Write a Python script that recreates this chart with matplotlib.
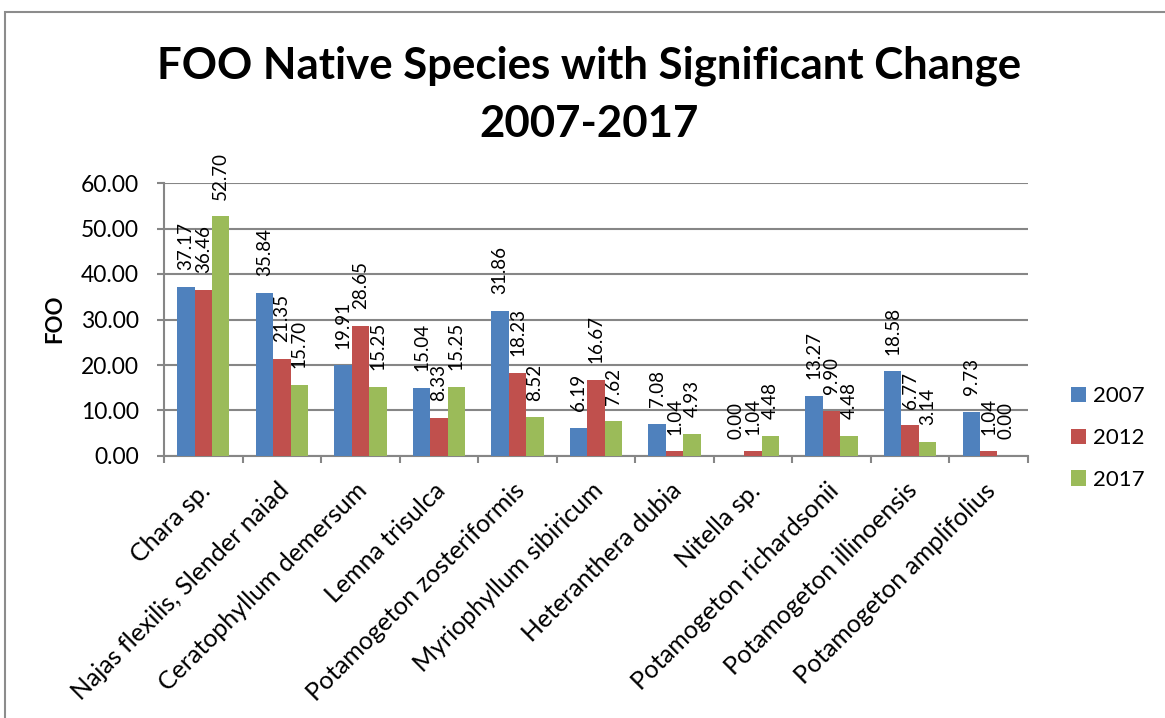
import numpy as np
import matplotlib.pyplot as plt
from matplotlib.patches import Rectangle

plt.rcParams["font.family"] = ["Lato", "DejaVu Sans"]

species = ["Chara sp.", "Najas flexilis, Slender naiad", "Ceratophyllum demersum",
           "Lemna trisulca", "Potamogeton zosteriformis", "Myriophyllum sibiricum",
           "Heteranthera dubia", "Nitella sp.", "Potamogeton richardsonii",
           "Potamogeton illinoensis", "Potamogeton amplifolius"]
years = ["2007", "2012", "2017"]
foo_2007 = [37.17, 35.84, 19.91, 15.04, 31.86, 6.19, 7.08, 0.00, 13.27, 18.58, 9.73]
foo_2012 = [36.46, 21.35, 28.65, 8.33, 18.23, 16.67, 1.04, 1.04, 9.90, 6.77, 1.04]
foo_2017 = [52.70, 15.70, 15.25, 15.25, 8.52, 7.62, 4.93, 4.48, 4.48, 3.14, 0.00]
colors = ["#4F81BD", "#C0504D", "#9BBB59"]

W, H = 1165, 718
fig = plt.figure(figsize=(W / 100, H / 100), dpi=100)
ax = fig.add_axes([164 / W, 1 - 456 / H, (1028 - 164) / W, (456 - 183) / H])

# outer chart border (only left and top edges fall inside the picture)
fig.patches.append(Rectangle((5 / W, -0.2), 1.2, 1.2 - 12 / H, transform=fig.transFigure,
                             fill=False, edgecolor="#8c8c8c", linewidth=1.5))

x = np.arange(len(species))
w = 0.222
grid_c = "#868686"
for i, (vals, yr) in enumerate(zip([foo_2007, foo_2012, foo_2017], years)):
    pos = x + (i - 1) * w
    ax.bar(pos, vals, width=w, color=colors[i], label=yr, zorder=3)
    for px, v in zip(pos, vals):
        ax.annotate(f"{v:.2f}", (px, v), xytext=(0, 12), textcoords="offset points",
                    rotation=90, ha="center", va="bottom", fontsize=13.5, zorder=4)

ax.set_xlim(-0.5, len(species) - 0.5)
ax.set_ylim(0, 60)
ax.set_yticks(np.arange(0, 61, 10))
ax.set_yticklabels([f"{t:.2f}" for t in np.arange(0, 61, 10)], fontsize=16.5)
ax.yaxis.grid(True, color=grid_c, linewidth=1.5, zorder=0)
ax.tick_params(axis="y", length=5, width=1.5, color=grid_c, pad=13)

ax.set_xticks(np.arange(-0.5, len(species), 1))
ax.set_xticklabels([])
ax.tick_params(axis="x", length=5, width=1.5, color=grid_c)
for xi, name in zip(x, species):
    ax.annotate(name, (xi, 0), xytext=(6, -26), textcoords="offset points",
                rotation=45, rotation_mode="anchor", ha="right", va="baseline",
                fontsize=18, annotation_clip=False)

for s in ["top", "right"]:
    ax.spines[s].set_visible(False)
for s in ["left", "bottom"]:
    ax.spines[s].set_color(grid_c)
    ax.spines[s].set_linewidth(1.5)

fig.text(55 / W, 1 - 319 / H, "FOO", rotation=90, ha="center", va="center",
         fontsize=16, fontweight="bold")

fig.text(589 / W, 1 - 78 / H, "FOO Native Species with Significant Change",
         ha="center", va="baseline", fontsize=31.5, fontweight="bold")
fig.text(589 / W, 1 - 137 / H, "2007-2017",
         ha="center", va="baseline", fontsize=31.5, fontweight="bold")

fig.legend(loc="center left", bbox_to_anchor=(1071 / W, 1 - 438 / H), frameon=False,
           fontsize=16, handlelength=0.68, handleheight=0.68, handletextpad=0.32,
           labelspacing=0.98, borderpad=0, borderaxespad=0)

fig.savefig("out.png", dpi=100)
